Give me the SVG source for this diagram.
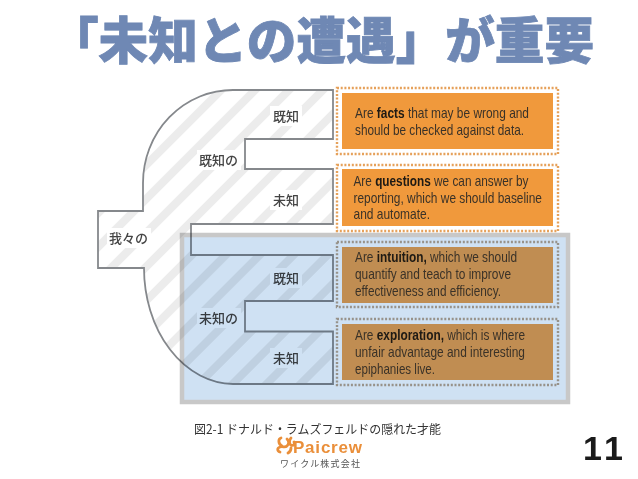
<svg xmlns="http://www.w3.org/2000/svg" width="638" height="479" viewBox="0 0 638 479">
<style>
.jp{font-family:"Noto Sans CJK JP","Liberation Sans",sans-serif}
.lab{font-size:13px;fill:#444;font-weight:500}
.bg{fill:#fff}
.t{font-family:"Liberation Sans",Arial,sans-serif;font-size:14.5px;fill:#3a3228}
.t tspan{font-weight:bold;fill:#1e1a14}
.dotA{fill:none;stroke:#e6a15a;stroke-width:2.4;stroke-dasharray:2 1.7}
.dotB{fill:none;stroke:#97928a;stroke-width:2.4;stroke-dasharray:2 1.7}
.or{fill:#f0993c}
.br{fill:#c08d52}
</style>
<defs>
<pattern id="hatch" width="24" height="24" patternUnits="userSpaceOnUse" patternTransform="rotate(-45)">
<rect width="24" height="24" fill="#fff"/>
<rect width="24" height="8" fill="#ececec"/>
</pattern>
</defs>
<rect width="638" height="479" fill="#fff"/>
<text id="title" class="jp" x="49" y="59" font-size="50" font-weight="900" fill="#6f88b4" stroke="#6f88b4" stroke-width="0.800" textLength="545" lengthAdjust="spacingAndGlyphs">「未知との遭遇」が重要</text>
<g id="tree">
<path d="M333 90V139H245V169H333V224H191V255H333V301H245V331.5H333V384H233A90 116 0 0 1 144 268H98V211H143V183A90 93 0 0 1 233 90Z" fill="url(#hatch)" stroke="#85888c" stroke-width="1.8"/>
</g>
<g id="n-known-known"><rect class="bg" x="270" y="106" width="32" height="20"/><text class="jp lab" x="273" y="121">既知</text></g>
<g id="n-known"><rect class="bg" x="197" y="150" width="44" height="20"/><text class="jp lab" x="199" y="165">既知の</text></g>
<g id="n-known-unknown"><rect class="bg" x="270" y="190" width="32" height="20"/><text class="jp lab" x="273" y="205">未知</text></g>
<g id="n-we"><rect class="bg" x="107" y="228" width="44" height="20"/><text class="jp lab" x="109" y="243">我々の</text></g>
<g id="n-unknown-known"><rect class="bg" x="270" y="268" width="32" height="20"/><text class="jp lab" x="273" y="283">既知</text></g>
<g id="n-unknown"><rect class="bg" x="197" y="308" width="44" height="20"/><text class="jp lab" x="199" y="323">未知の</text></g>
<g id="n-unknown-unknown"><rect class="bg" x="270" y="348" width="32" height="20"/><text class="jp lab" x="273" y="363">未知</text></g>
<g id="unknown-zone" style="mix-blend-mode:multiply">
<rect x="182" y="235" width="386" height="167" fill="#cfe1f3" stroke="#c8c8c8" stroke-width="4.5"/>
</g>
<g id="box-facts">
<rect class="dotA" x="337" y="88" width="221" height="66"/>
<rect class="or" x="342" y="93" width="211" height="56"/>
<text class="t" x="355" y="118" textLength="174" lengthAdjust="spacingAndGlyphs">Are <tspan>facts</tspan> that may be wrong and</text>
<text class="t" x="355" y="135" textLength="169" lengthAdjust="spacingAndGlyphs">should be checked against data.</text>
</g>
<g id="box-questions">
<rect class="dotA" x="337" y="165" width="221" height="66"/>
<rect class="or" x="342" y="169" width="211" height="57"/>
<text class="t" x="353.500" y="186" textLength="175" lengthAdjust="spacingAndGlyphs">Are <tspan>questions</tspan> we can answer by</text>
<text class="t" x="353.500" y="203" textLength="188.500" lengthAdjust="spacingAndGlyphs">reporting, which we should baseline</text>
<text class="t" x="353.500" y="219" textLength="76.500" lengthAdjust="spacingAndGlyphs">and automate.</text>
</g>
<g id="box-intuition">
<rect class="dotB" x="337" y="242" width="221" height="65"/>
<rect class="br" x="342" y="247" width="211" height="56"/>
<text class="t" x="355" y="262" textLength="162" lengthAdjust="spacingAndGlyphs">Are <tspan>intuition,</tspan> which we should</text>
<text class="t" x="355" y="279" textLength="156" lengthAdjust="spacingAndGlyphs">quantify and teach to improve</text>
<text class="t" x="355" y="296" textLength="146" lengthAdjust="spacingAndGlyphs">effectiveness and efficiency.</text>
</g>
<g id="box-exploration">
<rect class="dotB" x="337" y="319" width="221" height="66"/>
<rect class="br" x="342" y="324" width="211" height="56"/>
<text class="t" x="355" y="340" textLength="170" lengthAdjust="spacingAndGlyphs">Are <tspan>exploration,</tspan> which is where</text>
<text class="t" x="355" y="357" textLength="170" lengthAdjust="spacingAndGlyphs">unfair advantage and interesting</text>
<text class="t" x="355" y="374" textLength="80" lengthAdjust="spacingAndGlyphs">epiphanies live.</text>
</g>
<text id="caption" class="jp" x="194" y="434" font-size="12.500" fill="#333" textLength="247" lengthAdjust="spacingAndGlyphs">図2-1 ドナルド・ラムズフェルドの隠れた才能</text>
<g id="logo">
<path d="M282 446c-4-2-4-7-1-8M280 452c-3-1-3-4 0-5c3-1 5 1 7-1c2-2 2-5 0-7M291 438c-2 2-2 6 0 7c3 1 4-1 3-3M288 453c2-1 3-3 3-5" fill="none" stroke="#ea8f3a" stroke-width="2.800" stroke-linecap="round"/>
<text x="293" y="453" font-family="Liberation Sans,sans-serif" font-weight="bold" font-size="17" fill="#ea8f3a" textLength="69" lengthAdjust="spacing">Paicrew</text>
<text class="jp" x="280" y="466.500" font-size="9" fill="#555" textLength="80" lengthAdjust="spacing">ワイクル株式会社</text>
</g>
<text id="page" x="583" y="460" font-family="Liberation Sans,sans-serif" font-weight="bold" font-size="34" fill="#1a1a1a" letter-spacing="4">11</text>
</svg>
